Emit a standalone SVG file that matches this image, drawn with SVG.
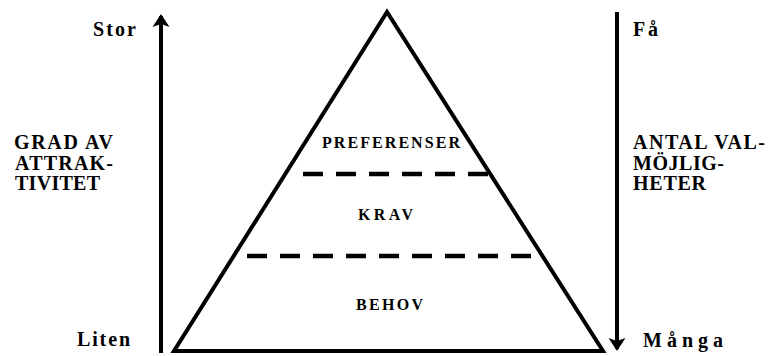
<svg xmlns="http://www.w3.org/2000/svg" width="777" height="356" viewBox="0 0 777 356">
<style>
text{font-family:'Liberation Serif','DejaVu Serif','Times New Roman',serif;font-weight:700;fill:#000}
.big{font-size:20px}
.lbl{font-size:16px}
.ln{stroke:#000;stroke-width:4;fill:none}
.dash{stroke:#000;stroke-width:4.5;stroke-dasharray:20 13;fill:none}
</style>
<defs>
<marker id="ah" markerWidth="14" markerHeight="18" refX="11" refY="9" orient="auto" markerUnits="userSpaceOnUse">
<path d="M0,0.5 L13,9 L0,17.5 L3,9 Z" fill="#000"/>
</marker>
</defs>
<rect width="777" height="356" fill="#fff"/>
<g id="pyramid">
<path class="ln" d="M387,12 L174,351 L603,351 Z" stroke-linejoin="miter"/>
</g>
<g id="connectors">
<line class="ln" x1="161" y1="353" x2="161" y2="16" stroke-width="4.5" marker-end="url(#ah)"/>
<line class="ln" x1="617" y1="12" x2="617" y2="349" stroke-width="4.5" marker-end="url(#ah)"/>
<line class="dash" x1="303" y1="174" x2="490" y2="174"/>
<line class="dash" x1="247" y1="256" x2="533" y2="256"/>
</g>
<g id="left-labels">
<text class="big" x="93" y="36" textLength="43" lengthAdjust="spacing">Stor</text>
<text class="big" x="77" y="346" textLength="53" lengthAdjust="spacing">Liten</text>
<text class="big" x="14" y="149" textLength="99" lengthAdjust="spacing">GRAD AV</text>
<text class="big" x="15" y="169.5" textLength="98" lengthAdjust="spacing">ATTRAK-</text>
<text class="big" x="15" y="190" textLength="85" lengthAdjust="spacing">TIVITET</text>
</g>
<g id="right-labels">
<text class="big" x="633" y="36" textLength="25" lengthAdjust="spacing">Få</text>
<text class="big" x="643" y="347" textLength="80" lengthAdjust="spacing">Många</text>
<text class="big" x="633" y="149" textLength="132" lengthAdjust="spacing">ANTAL VAL-</text>
<text class="big" x="633" y="169.5" textLength="91" lengthAdjust="spacing">MÖJLIG-</text>
<text class="big" x="633" y="190" textLength="73" lengthAdjust="spacing">HETER</text>
</g>
<g id="level-preferenser">
<text class="lbl" x="322" y="148" textLength="138" lengthAdjust="spacing">PREFERENSER</text>
</g>
<g id="level-krav">
<text class="lbl" x="358" y="220" textLength="55" lengthAdjust="spacing">KRAV</text>
</g>
<g id="level-behov">
<text class="lbl" x="356" y="310" textLength="67" lengthAdjust="spacing">BEHOV</text>
</g>
</svg>
